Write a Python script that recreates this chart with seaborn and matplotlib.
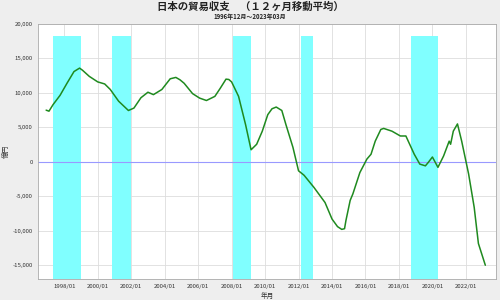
import matplotlib
matplotlib.use("Agg")
import matplotlib.pyplot as plt
import matplotlib.dates as mdates
import matplotlib.ticker as mticker
import seaborn as sns
import pandas as pd

# ---- data ----
months = ["1996-12", "1997-02", "1997-05", "1997-10", "1998-03", "1998-08", "1998-12",
          "1999-02", "1999-07", "2000-01", "2000-06", "2000-10", "2001-04", "2001-11",
          "2002-03", "2002-08", "2003-01", "2003-05", "2003-11", "2004-05", "2004-09",
          "2004-12", "2005-03", "2005-09", "2006-02", "2006-07", "2007-01", "2007-05",
          "2007-09", "2007-11", "2008-01", "2008-06", "2008-11", "2009-03", "2009-07",
          "2009-11", "2010-03", "2010-06", "2010-09", "2011-01", "2011-04", "2011-09",
          "2012-01", "2012-05", "2012-12", "2013-08", "2014-01", "2014-05", "2014-08",
          "2014-10", "2014-11", "2015-02", "2015-04", "2015-09", "2016-02", "2016-05",
          "2016-08", "2016-12", "2017-02", "2017-08", "2018-02", "2018-06", "2018-12",
          "2019-04", "2019-08", "2019-10", "2020-01", "2020-05", "2020-09", "2021-01",
          "2021-02", "2021-04", "2021-07", "2021-10", "2022-03", "2022-07", "2022-10",
          "2023-03"]
balance = [7500, 7350, 8300, 9650, 11400, 13100, 13600,
           13300, 12400, 11600, 11300, 10500, 8800, 7450,
           7800, 9300, 10100, 9750, 10500, 12050, 12250,
           11900, 11400, 9900, 9250, 8900, 9500, 10700,
           12000, 11950, 11600, 9500, 5400, 1750, 2550,
           4450, 6850, 7700, 7950, 7450, 5400, 2100,
           -1300, -1950, -3700, -5900, -8300, -9400, -9800,
           -9700, -8500, -5600, -4650, -1550, 400, 1100,
           3000, 4700, 4850, 4450, 3750, 3750, 1100,
           -330, -580, -100, 700, -800, 850, 3000,
           2550, 4450, 5500, 3000, -1750, -6600, -11850,
           -15000]

recession_start = ["1997-05", "2000-11", "2008-02", "2012-03", "2018-10"]
recession_end = ["1999-01", "2002-01", "2009-03", "2012-11", "2020-05"]
band_top = 18200

y_ticks = [-15000, -10000, -5000, 0, 5000, 10000, 15000, 20000]
x_tick_years = list(range(1998, 2023, 2))

title = "日本の貿易収支　（１２ヶ月移動平均）"
subtitle = "1996年12月～2023年03月"
xlabel = "年月"
ylabel = "億円"

# ---- plotting ----
sns.set_theme(style="white")
plt.rcParams["font.family"] = ["Noto Sans CJK JP", "DejaVu Sans"]

df = pd.DataFrame({"date": pd.to_datetime(months), "value": balance})

fig = plt.figure(figsize=(5, 3), dpi=100, facecolor="#eeeeee")
ax = fig.add_axes([0.0755, 0.07, 0.9165, 0.85])
ax.set_facecolor("white")

y_min, y_max = -17000, 20000

for s, e in zip(recession_start, recession_end):
    ax.fill_between(pd.to_datetime([s, e]), y_min, band_top,
                    color="#80ffff", linewidth=0, zorder=1)

ax.axhline(0, color="#9999ff", linewidth=0.8, zorder=2)

sns.lineplot(data=df, x="date", y="value", ax=ax, color="#1f8a1f",
             linewidth=1.1, zorder=3)

ax.set_xlim(pd.Timestamp("1996-06-01"), pd.Timestamp("2023-10-20"))
ax.set_ylim(y_min, y_max)

ax.set_xticks(pd.to_datetime([f"{y}-01-01" for y in x_tick_years]))
ax.xaxis.set_major_formatter(mdates.DateFormatter("%Y/%m"))
ax.set_yticks(y_ticks)
ax.yaxis.set_major_formatter(mticker.FuncFormatter(lambda v, p: f"{int(v):,}"))

ax.grid(True, color="#dddddd", linewidth=0.6, zorder=0)
ax.set_axisbelow(True)
for sp in ax.spines.values():
    sp.set_color("#aaaaaa")
    sp.set_linewidth(0.6)

ax.tick_params(axis="both", labelsize=4.3, colors="#333333", length=2, width=0.5,
               pad=1.5)
ax.tick_params(axis="both", color="#aaaaaa")

ax.set_xlabel(xlabel, fontsize=4.8, color="#333333", labelpad=2)
ax.set_ylabel(ylabel, fontsize=4.8, color="#333333")
ax.yaxis.set_label_coords(-0.062, 0.5)

fig.text(0.5, 0.977, title, ha="center", va="center", fontsize=7.5,
         fontweight="bold", color="#222222")
fig.text(0.5, 0.945, subtitle, ha="center", va="center", fontsize=4.3,
         fontweight="bold", color="#222222")

fig.savefig("out.png", dpi=100, facecolor=fig.get_facecolor())
